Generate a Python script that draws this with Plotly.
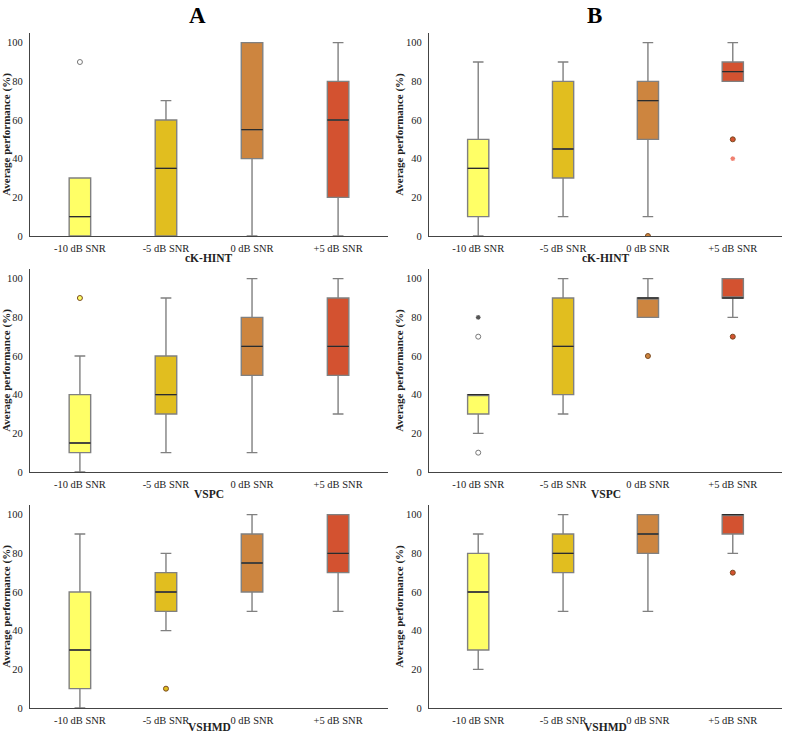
import plotly.graph_objects as go

categories = ['-10 dB SNR', '-5 dB SNR', '0 dB SNR', '+5 dB SNR']
colors = ['#FFFF66', '#E1BE1F', '#CD853F', '#D35230']
tests = ['cK-HINT', 'VSPC', 'VSHMD']

# panel A (left column), one list per test, values per SNR category
a_q1 = [[0, 0, 40, 20], [10, 30, 50, 50], [10, 50, 60, 70]]
a_median = [[10, 35, 55, 60], [15, 40, 65, 65], [30, 60, 75, 80]]
a_q3 = [[30, 60, 100, 80], [40, 60, 80, 90], [60, 70, 90, 100]]
a_low = [[0, 0, 0, 0], [0, 10, 10, 30], [0, 40, 50, 50]]
a_high = [[30, 70, 100, 100], [60, 90, 100, 100], [90, 80, 100, 100]]
a_open = [[[90], [], [], []], [[], [], [], []], [[], [], [], []]]
a_dots = [[[], [], [], []], [[90], [], [], []], [[], [10], [], []]]
a_stars = [[[], [], [], []], [[], [], [], []], [[], [], [], []]]

# panel B (right column)
b_q1 = [[10, 30, 50, 80], [30, 40, 80, 90], [30, 70, 80, 90]]
b_median = [[35, 45, 70, 85], [40, 65, 90, 90], [60, 80, 90, 100]]
b_q3 = [[50, 80, 80, 90], [40, 90, 90, 100], [80, 90, 100, 100]]
b_low = [[0, 10, 10, 80], [20, 30, 80, 80], [20, 50, 50, 80]]
b_high = [[90, 90, 100, 100], [40, 100, 100, 100], [90, 100, 100, 100]]
b_open = [[[], [], [], []], [[70, 10], [], [], []], [[], [], [], []]]
b_dots = [[[], [], [0], [50]], [[], [], [60], [70]], [[], [], [], [70]]]
b_stars = [[[], [], [], [40]], [[80], [], [], []], [[], [], [], []]]

FONT = 'Liberation Serif, Times New Roman, serif'
W, H = 788, 735
x_domains = [[30 / W, 388 / W], [429 / W, 782 / W]]
y_domains = [[1 - 236 / H, 1 - 33 / H], [1 - 472 / H, 1 - 269 / H], [1 - 708 / H, 1 - 505 / H]]
xtitle_y = [258, 494, 727]
ytitle_standoff = [8, 0]

fig = go.Figure()

panels = [
    (a_q1, a_median, a_q3, a_low, a_high, a_open, a_dots, a_stars),
    (b_q1, b_median, b_q3, b_low, b_high, b_open, b_dots, b_stars),
]

n = 0
for col, (q1, med, q3, low, high, opn, dots, stars) in enumerate(panels):
    for row, test in enumerate(tests):
        n += 1
        xa = 'x' if n == 1 else 'x%d' % n
        ya = 'y' if n == 1 else 'y%d' % n
        for i, cat in enumerate(categories):
            fig.add_trace(go.Box(x=[i], q1=[q1[row][i]], median=[med[row][i]], q3=[q3[row][i]],
                                 lowerfence=[low[row][i]], upperfence=[high[row][i]],
                                 width=0.25, whiskerwidth=0.5,
                                 fillcolor=colors[i], line=dict(color='#808080', width=1.4),
                                 boxpoints=False, hoverinfo='skip',
                                 xaxis=xa, yaxis=ya, showlegend=False))
            # dark median line
            m = med[row][i]
            fig.add_trace(go.Box(x=[i], q1=[m], median=[m], q3=[m], lowerfence=[m], upperfence=[m],
                                 width=0.25, whiskerwidth=0,
                                 fillcolor='rgba(0,0,0,0)', line=dict(color='#2b2b2b', width=1.4),
                                 boxpoints=False, hoverinfo='skip',
                                 xaxis=xa, yaxis=ya, showlegend=False))
            if opn[row][i]:
                fig.add_trace(go.Scatter(x=[i] * len(opn[row][i]), y=opn[row][i], mode='markers',
                                         marker=dict(symbol='circle-open', size=5, color='#777777',
                                                     line=dict(width=1)),
                                         xaxis=xa, yaxis=ya, showlegend=False))
            if dots[row][i]:
                fig.add_trace(go.Scatter(x=[i] * len(dots[row][i]), y=dots[row][i], mode='markers',
                                         marker=dict(symbol='circle', size=5, color=colors[i],
                                                     line=dict(width=1, color='#7a4a20')),
                                         xaxis=xa, yaxis=ya, showlegend=False))
            if stars[row][i]:
                fig.add_trace(go.Scatter(x=[i] * len(stars[row][i]), y=stars[row][i], mode='markers',
                                         marker=dict(symbol='asterisk-open', size=4,
                                                     color='#555555' if i == 0 else '#F08070',
                                                     line=dict(width=1.2,
                                                               color='#555555' if i == 0 else '#F08070')),
                                         xaxis=xa, yaxis=ya, showlegend=False))

        xkey = 'xaxis' if n == 1 else 'xaxis%d' % n
        ykey = 'yaxis' if n == 1 else 'yaxis%d' % n
        fig.update_layout(**{
            xkey: dict(domain=x_domains[col], anchor=ya, range=[-0.58, 3.58], automargin=False,
                       tickvals=list(range(len(categories))), ticktext=categories,
                       showline=True, linecolor='#444444', linewidth=1.2,
                       showgrid=False, zeroline=False, ticks='', ticklabelstandoff=2,
                       tickfont=dict(family=FONT, size=10.5, color='#222222')),
            ykey: dict(domain=y_domains[row], anchor=xa, range=[0, 105], automargin=False,
                       tickvals=[0, 20, 40, 60, 80, 100],
                       showline=True, linecolor='#444444', linewidth=1.2,
                       showgrid=False, zeroline=False, ticks='', ticklabelstandoff=4,
                       tickfont=dict(family=FONT, size=10.5, color='#222222'),
                       title=dict(text='<b>Average performance (%)</b>',
                                  standoff=ytitle_standoff[col],
                                  font=dict(family=FONT, size=11, color='#222222'))),
        })
        # x axis title, placed below the tick labels
        x_mid = (x_domains[col][0] + x_domains[col][1]) / 2
        fig.add_annotation(text='<b>%s</b>' % test, x=x_mid, y=1 - xtitle_y[row] / H,
                           xref='paper', yref='paper', showarrow=False,
                           xanchor='center', yanchor='middle',
                           font=dict(family=FONT, size=11.5, color='#222222'))

fig.add_annotation(text='<b>A</b>', x=197 / W, y=1 - 15 / H, xref='paper', yref='paper',
                   showarrow=False, xanchor='center', yanchor='middle',
                   font=dict(family=FONT, size=23, color='black'))
fig.add_annotation(text='<b>B</b>', x=594 / W, y=1 - 15 / H, xref='paper', yref='paper',
                   showarrow=False, xanchor='center', yanchor='middle',
                   font=dict(family=FONT, size=23, color='black'))

fig.update_layout(width=W, height=H, margin=dict(l=0, r=0, t=0, b=0),
                  font=dict(family=FONT, color='#222222'),
                  plot_bgcolor='white', paper_bgcolor='white', boxmode='overlay')

# drop the default page margin so the figure sits at the window's corner
fig.write_html("out.html", config={'displayModeBar': False},
               post_script="document.body.style.margin='0';")
